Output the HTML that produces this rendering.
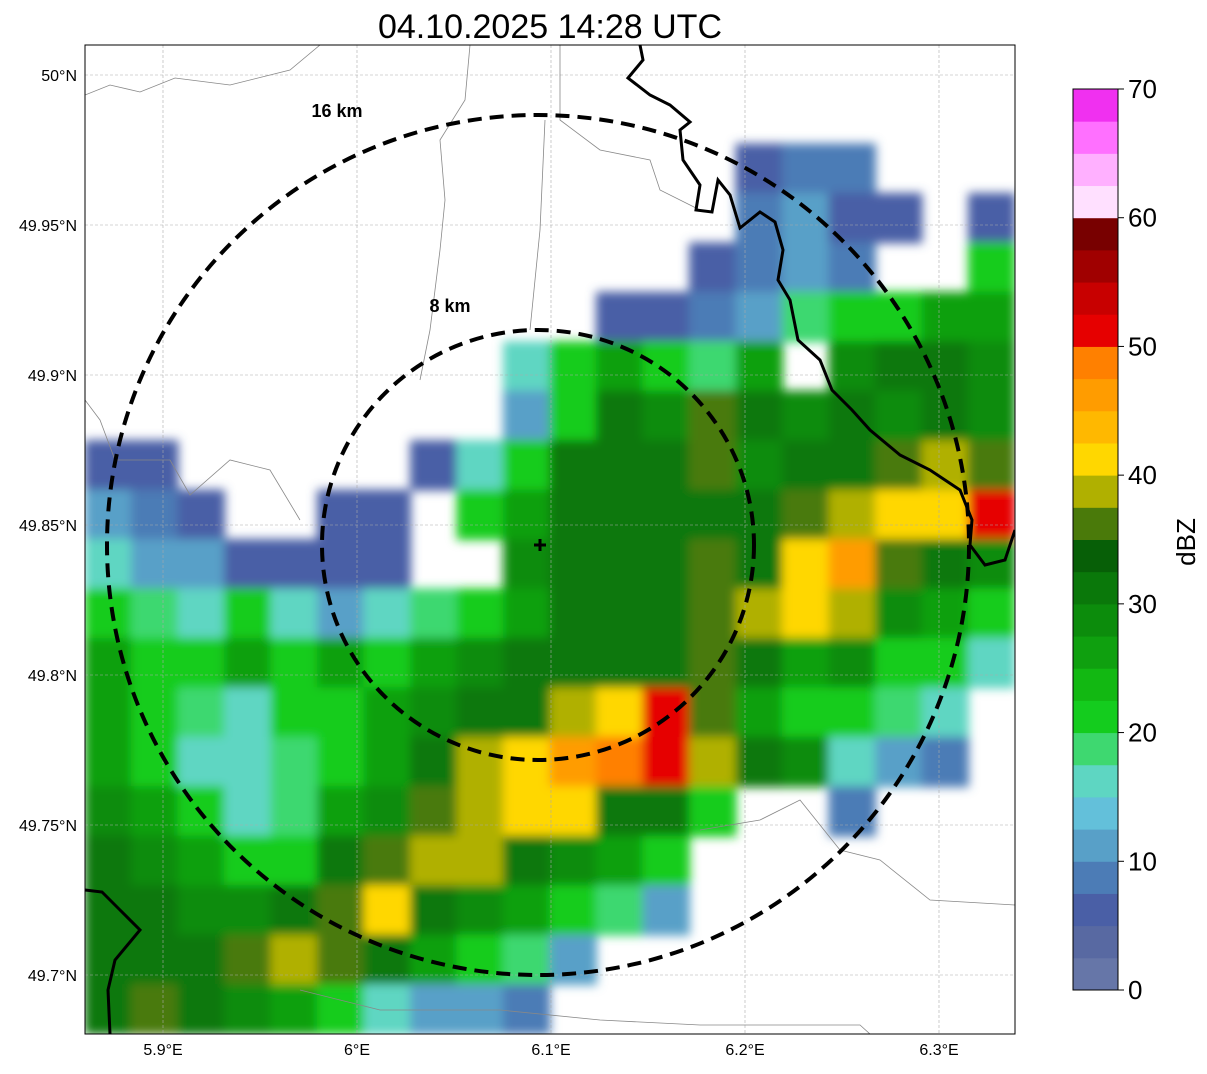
<!DOCTYPE html>
<html><head><meta charset="utf-8"><style>
body{margin:0;background:#fff;}
svg text{font-family:"Liberation Sans",sans-serif;}
</style></head><body>
<svg id="s" width="1207" height="1069" xmlns="http://www.w3.org/2000/svg">
<rect width="1207" height="1069" fill="#fff"/>
<text x="550" y="38" font-size="34" text-anchor="middle">04.10.2025 14:28 UTC</text>
<defs><clipPath id="pc"><rect x="85" y="45" width="930" height="989"/></clipPath>
<filter id="bl" x="-5%" y="-5%" width="110%" height="110%"><feGaussianBlur stdDeviation="5"/></filter></defs>
<g clip-path="url(#pc)"><g id="cells" filter="url(#bl)"></g></g>
<g id="grid" clip-path="url(#pc)"></g>
<g clip-path="url(#pc)">
<path d="M85,95 L110,85 L140,92 L175,78 L230,85 L290,70 L320,45 M470,45 L465,100 L440,140 L445,200 L440,250 L430,330 L420,380 M85,400 L100,420 L115,460 L170,460 L190,495 L230,460 L270,470 L300,520 M560,45 L560,120 L600,150 L650,160 L660,190 L700,210 M545,120 L540,230 L530,330 M700,830 L760,820 L800,800 L840,850 L880,860 L930,900 L1015,905 M300,990 L380,1010 L500,1010 L600,1020 L700,1025 L860,1025 L870,1034" fill="none" stroke="#888" stroke-width="0.8"/>
<path d="M640,45 L643,60 L628,78 L650,95 L670,105 L690,122 L680,130 L683,160 L700,185 L696,210 L712,212 L718,180 L730,195 L740,228 L760,212 L775,222 L783,250 L778,280 L790,300 L798,340 L820,360 L832,390 L852,410 L870,430 L900,455 L930,470 L960,490 L972,520 L970,545 L985,565 L1005,560 L1015,530" fill="none" stroke="#000" stroke-width="3"/>
<path d="M85,890 L102,892 L120,910 L140,930 L115,960 L108,990 L110,1034" fill="none" stroke="#000" stroke-width="3"/>
</g>
<g fill="none" stroke="#000" stroke-width="4" stroke-dasharray="14,8">
<ellipse cx="538" cy="545" rx="431" ry="430"/>
<ellipse cx="538" cy="545" rx="216" ry="215"/>
</g>
<text x="337" y="117" font-size="18" font-weight="bold" text-anchor="middle">16 km</text>
<text x="450" y="312" font-size="18" font-weight="bold" text-anchor="middle">8 km</text>
<path d="M534,545 H546 M540,539 V551" stroke="#000" stroke-width="3"/>
<rect x="85" y="45" width="930" height="989" fill="none" stroke="#000" stroke-width="1"/>
<g id="axes"></g>
<g id="cbar"></g>
<text transform="translate(1195,542) rotate(-90)" font-size="26" text-anchor="middle">dBZ</text>
</svg>
<script>
const lonTicks=[5.9,6.0,6.1,6.2,6.3];
const lonLabels=["5.9°E","6°E","6.1°E","6.2°E","6.3°E"];
const latTicks=[50.0,49.95,49.9,49.85,49.8,49.75,49.7];
const latLabels=["50°N","49.95°N","49.9°N","49.85°N","49.8°N","49.75°N","49.7°N"];
const levels=[0,2.5,5,7.5,10,12.5,15,17.5,20,22.5,25,27.5,30,32.5,35,37.5,40,42.5,45,47.5,50,52.5,55,57.5,60,62.5,65,67.5,70];
const cbTicks=[0,10,20,30,40,50,60,70];
const palette=["#6676a8","#5869a2","#4a5fa6","#4c7cb6","#58a0c8","#63c0da","#5ed6c2","#3ed870","#14cc1e","#12b812","#0fa00f","#0c8c0c","#0a780a","#075f07","#4a7a0a","#b0b000","#ffd700","#ffb800","#ff9c00","#ff8000","#e60000","#c80000","#a00000","#780000","#ffe0ff","#ffb0ff","#ff70ff","#f030f0"];
const gridRows=[
"-1 -1 -1 -1 -1 -1 -1 -1 -1 -1 -1 -1 -1 -1 -1 -1 -1 -1 -1 -1",
"-1 -1 -1 -1 -1 -1 -1 -1 -1 -1 -1 -1 -1 -1 -1 -1 -1 -1 -1 -1",
"-1 -1 -1 -1 -1 -1 -1 -1 -1 -1 -1 -1 -1 -1 5 8 8 -1 -1 -1",
"-1 -1 -1 -1 -1 -1 -1 -1 -1 -1 -1 -1 -1 -1 8 10 5 5 -1 5",
"-1 -1 -1 -1 -1 -1 -1 -1 -1 -1 -1 -1 -1 5 8 12 8 -1 -1 20",
"-1 -1 -1 -1 -1 -1 -1 -1 -1 -1 -1 5 5 8 12 18 22 20 25 25",
"-1 -1 -1 -1 -1 -1 -1 -1 -1 15 20 25 22 18 25 -1 28 30 30 28",
"-1 -1 -1 -1 -1 -1 -1 -1 -1 10 22 30 28 35 30 28 30 28 30 28",
"5 5 -1 -1 -1 -1 -1 5 15 20 30 30 32 35 28 30 30 35 38 35",
"10 8 5 -1 -1 5 5 -1 20 25 32 32 32 30 30 35 38 42 40 52",
"15 12 10 5 5 5 5 -1 -1 28 32 30 30 35 32 42 45 35 30 28",
"20 18 15 20 15 12 15 18 22 25 30 32 32 35 38 42 38 28 25 20",
"25 20 20 25 22 25 22 25 28 30 32 32 30 35 30 25 28 22 20 15",
"25 20 18 15 20 22 25 28 30 32 38 42 50 35 25 22 20 18 15 -1",
"25 22 15 15 18 20 25 30 38 42 45 48 52 38 30 28 15 10 8 -1",
"28 25 20 15 18 25 28 35 38 40 42 32 30 20 -1 -1 8 -1 -1 -1",
"30 28 25 20 22 30 35 38 38 32 28 25 20 -1 -1 -1 -1 -1 -1 -1",
"32 30 28 28 30 35 40 32 28 25 22 18 10 -1 -1 -1 -1 -1 -1 -1",
"32 30 32 35 38 35 30 25 20 18 12 -1 -1 -1 -1 -1 -1 -1 -1 -1",
"32 35 30 28 25 20 15 10 12 8 -1 -1 -1 -1 -1 -1 -1 -1 -1 -1"];
const NS="http://www.w3.org/2000/svg";
const X0=85,X1=1015,Y0=45,Y1=1034;
function xLon(l){return 163+(l-5.9)*1940;}
function yLat(l){return 75+(50.0-l)*3000;}
function cbY(v){return 990-(v/70)*901;}
function colorFor(v){for(let i=levels.length-2;i>=0;i--){if(v>=levels[i])return palette[i];}return palette[0];}
function mk(tag,attrs,parent){const e=document.createElementNS(NS,tag);for(const k in attrs)e.setAttribute(k,attrs[k]);parent.appendChild(e);return e;}
const cells=document.getElementById('cells');
const nR=gridRows.length;
gridRows.forEach((row,r)=>{
  const vals=row.trim().split(/\s+/).map(Number);
  const nC=vals.length,cw=(X1-X0)/nC,ch=(Y1-Y0)/nR;
  vals.forEach((v,c)=>{
    if(v<0)return;
    const el=mk('rect',{x:X0+c*cw-0.5,y:Y0+r*ch-0.5,width:cw+1,height:ch+1,fill:colorFor(v)},cells);
    
    
  });
});
const grid=document.getElementById('grid');
lonTicks.forEach(l=>{const x=xLon(l);const g=mk('line',{x1:x,x2:x,y1:Y0,y2:Y1,stroke:'#aaa','stroke-width':0.6,'stroke-dasharray':'3,2'},grid);

});
latTicks.forEach(l=>{const y=yLat(l);const g=mk('line',{x1:X0,x2:X1,y1:y,y2:y,stroke:'#aaa','stroke-width':0.6,'stroke-dasharray':'3,2'},grid);

});
const axes=document.getElementById('axes');
lonTicks.forEach((l,i)=>{const t=mk('text',{x:xLon(l),y:1055,'font-size':16,'text-anchor':'middle'},axes);t.textContent=lonLabels[i];

});
latTicks.forEach((l,i)=>{const t=mk('text',{x:77,y:yLat(l)+6,'font-size':16,'text-anchor':'end'},axes);t.textContent=latLabels[i];

});
const cb=document.getElementById('cbar');
for(let i=0;i<levels.length-1;i++){
  const y1=cbY(levels[i+1]),y0=cbY(levels[i]);
  const r=mk('rect',{x:1073,y:y1,width:45,height:y0-y1+0.5,fill:palette[i]},cb);
  
  
}
mk('rect',{x:1073,y:89,width:45,height:901,fill:'none',stroke:'#000','stroke-width':1},cb);
cbTicks.forEach(v=>{const y=cbY(v);mk('line',{x1:1118,x2:1124,y1:y,y2:y,stroke:'#000'},cb);
const t=mk('text',{x:1128,y:y+9,'font-size':26},cb);t.textContent=v;

});
</script>
</body></html>
